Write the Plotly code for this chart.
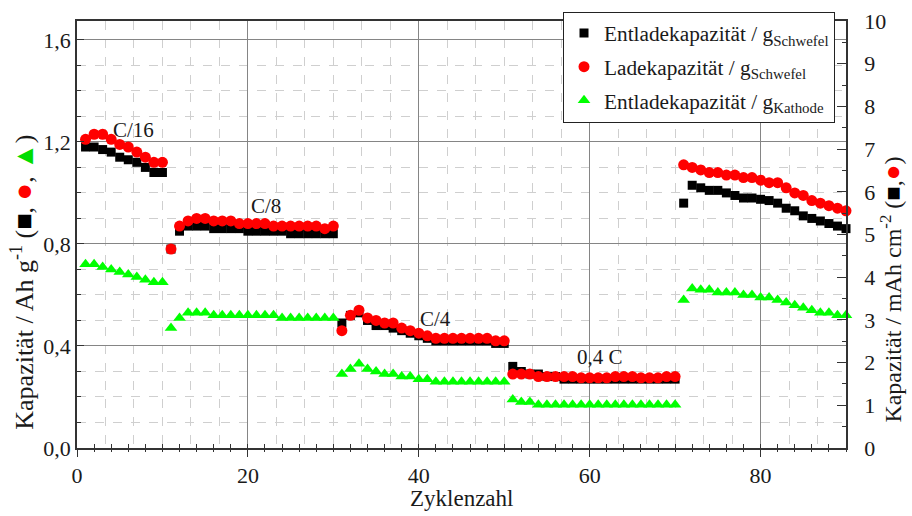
import plotly.graph_objects as go

# Cycle numbers
cycles = list(range(1, 91))

# Discharge capacity per g sulfur (Ah/g)
entlade_schwefel = [
    1.18, 1.18, 1.17, 1.16, 1.14, 1.13, 1.12, 1.10, 1.08, 1.08,
    0.78,
    0.85, 0.87, 0.87, 0.87, 0.86, 0.86, 0.86, 0.86, 0.85, 0.85,
    0.85, 0.85, 0.85, 0.84, 0.84, 0.84, 0.84, 0.84, 0.84,
    0.49, 0.52, 0.53, 0.50, 0.48, 0.48, 0.47, 0.46, 0.45, 0.44,
    0.43, 0.42, 0.42, 0.42, 0.42, 0.42, 0.42, 0.42, 0.41, 0.41,
    0.32, 0.30, 0.29, 0.29, 0.28, 0.28, 0.27, 0.27, 0.27, 0.27,
    0.27, 0.27, 0.27, 0.27, 0.27, 0.27, 0.27, 0.27, 0.27, 0.27,
    0.96, 1.03, 1.02, 1.01, 1.01, 1.00, 0.99, 0.98, 0.98, 0.975,
    0.97, 0.96, 0.94, 0.93, 0.91, 0.90, 0.89, 0.88, 0.87, 0.86,
]

# Charge capacity per g sulfur (Ah/g)
lade_schwefel = [
    1.21, 1.23, 1.23, 1.21, 1.19, 1.18, 1.16, 1.14, 1.12, 1.12,
    0.78,
    0.87, 0.89, 0.90, 0.90, 0.89, 0.89, 0.89, 0.88, 0.88, 0.88,
    0.88, 0.87, 0.87, 0.87, 0.87, 0.87, 0.87, 0.86, 0.87,
    0.46, 0.52, 0.54, 0.51, 0.50, 0.49, 0.49, 0.47, 0.46, 0.45,
    0.44, 0.43, 0.43, 0.43, 0.43, 0.43, 0.43, 0.43, 0.42, 0.42,
    0.29, 0.29, 0.29, 0.28, 0.28, 0.28, 0.28, 0.28, 0.275, 0.275,
    0.275, 0.275, 0.28, 0.28, 0.28, 0.275, 0.275, 0.275, 0.28, 0.28,
    1.11, 1.10, 1.09, 1.08, 1.08, 1.07, 1.07, 1.06, 1.06, 1.05,
    1.04, 1.04, 1.02, 1.00, 0.99, 0.97, 0.96, 0.95, 0.94, 0.93,
]

# Discharge capacity per g cathode (Ah/g)
entlade_kathode = [
    0.72, 0.72, 0.71, 0.70, 0.69, 0.68, 0.67, 0.66, 0.65, 0.65,
    0.47,
    0.51, 0.53, 0.53, 0.53, 0.52, 0.52, 0.52, 0.52, 0.52, 0.52,
    0.52, 0.52, 0.51, 0.51, 0.51, 0.51, 0.51, 0.51, 0.51,
    0.29, 0.31, 0.33, 0.31, 0.30, 0.29, 0.29, 0.28, 0.28, 0.27,
    0.27, 0.26, 0.26, 0.26, 0.26, 0.26, 0.26, 0.26, 0.26, 0.26,
    0.19, 0.18, 0.18, 0.17, 0.17, 0.17, 0.17, 0.17, 0.17, 0.17,
    0.17, 0.17, 0.17, 0.17, 0.17, 0.17, 0.17, 0.17, 0.17, 0.17,
    0.58, 0.625, 0.62, 0.62, 0.61, 0.61, 0.61, 0.60, 0.60, 0.59,
    0.59, 0.58, 0.57, 0.56, 0.55, 0.54, 0.53, 0.53, 0.52, 0.52,
]

# C-rate labels and their anchor points (cycle, capacity)
rate_labels = ["C/16", "C/8", "C/4", "0,4 C"]
rate_x = [6.6, 22.1, 41.9, 61.2]
rate_y = [1.247, 0.948, 0.505, 0.357]

SERIF = "Liberation Serif"
AXIS = "#333333"
TXT = "#1a1a1a"

fig = go.Figure()
fig.add_trace(go.Scatter(
    x=cycles, y=entlade_schwefel, mode="markers", name="Entladekapazität / g<sub>Schwefel</sub>",
    marker=dict(symbol="square", size=9, color="#000000"), legendgroup="a", cliponaxis=False))
fig.add_trace(go.Scatter(
    x=cycles, y=lade_schwefel, mode="markers", name="Ladekapazität / g<sub>Schwefel</sub>",
    marker=dict(symbol="circle", size=11, color="#ff0000"), legendgroup="b", cliponaxis=False))
fig.add_trace(go.Scatter(
    x=cycles, y=entlade_kathode, mode="markers", name="Entladekapazität / g<sub>Kathode</sub>",
    marker=dict(symbol="triangle-up", size=11, color="#00ff00"), legendgroup="c", cliponaxis=False))

# Empty traces so the secondary scale and the extra tick axes get rendered
for xa, ya in (("x", "y2"), ("x3", "y"), ("x4", "y")):
    fig.add_trace(go.Scatter(x=[None], y=[None], xaxis=xa, yaxis=ya, mode="markers",
                             showlegend=False, hoverinfo="skip"))

for t, xv, yv in zip(rate_labels, rate_x, rate_y):
    fig.add_annotation(x=xv, y=yv, text=t, showarrow=False,
                       font=dict(family=SERIF, size=21, color=TXT))

sq = '<span style="color:#000;font-size:27px">■</span>'
ci = '<span style="color:#ff0000;font-size:29px">●</span>'
tr = '<span style="color:#00dd00;font-size:27px">▲</span>'
sq_r = '<span style="color:#000;font-size:24px">■</span>'
ci_r = '<span style="color:#ff0000;font-size:26px">●</span>'

# Axis titles, placed as paper annotations
fig.add_annotation(xref="paper", yref="paper", x=-0.071, y=0.388, textangle=-90,
                   xanchor="center", yanchor="middle", showarrow=False,
                   text="Kapazität / Ah g<sup>-1</sup> (" + sq + ", " + ci + ", " + tr + ")",
                   font=dict(family=SERIF, size=26, color=TXT))
fig.add_annotation(xref="paper", yref="paper", x=1.058, y=0.37, textangle=-90,
                   xanchor="center", yanchor="middle", showarrow=False,
                   text="Kapazität / mAh cm<sup>-2</sup> (" + sq_r + "," + ci_r + ")",
                   font=dict(family=SERIF, size=24, color=TXT))
fig.add_annotation(xref="paper", yref="paper", x=0.5, y=-0.118,
                   xanchor="center", yanchor="middle", showarrow=False,
                   text="Zyklenzahl", font=dict(family=SERIF, size=23, color=TXT))

fig.update_layout(
    width=912, height=516,
    margin=dict(l=77, r=66, t=17, b=68),
    paper_bgcolor="white", plot_bgcolor="white",
    separators=",.",
    font=dict(family=SERIF, size=19, color=TXT),
    showlegend=True,
    legend=dict(x=0.632, y=1.022, xanchor="left", yanchor="top",
                bgcolor="white", bordercolor="#222", borderwidth=1,
                font=dict(family=SERIF, size=21.3, color=TXT),
                tracegroupgap=3, itemwidth=30),
    xaxis=dict(
        range=[0, 90], tick0=0, dtick=20, showgrid=True, gridcolor="#858585", gridwidth=1,
        ticks="outside", ticklen=7, tickcolor=AXIS, tickwidth=1.3, automargin=False,
        showline=True, linecolor=AXIS, linewidth=1.6, mirror=True, zeroline=False,
        minor=dict(tick0=0, dtick=20 / 6, showgrid=True, gridcolor="#cfcfcf",
                   griddash="dash", gridwidth=1, ticks=""),
        tickfont=dict(family=SERIF, size=22, color=TXT),
    ),
    xaxis3=dict(
        overlaying="x", anchor="y", side="bottom", range=[0, 90], tick0=0, dtick=2,
        ticks="inside", ticklen=4, tickcolor=AXIS, tickwidth=1.2,
        showticklabels=False, showgrid=False, zeroline=False, showline=False,
    ),
    xaxis4=dict(
        overlaying="x", anchor="y", side="bottom", range=[0, 90], tick0=0, dtick=2,
        ticks="outside", ticklen=3, tickcolor=AXIS, tickwidth=1.2,
        showticklabels=False, showgrid=False, zeroline=False, showline=False,
    ),
    yaxis=dict(
        range=[0, 1.674], tick0=0, dtick=0.4, tickformat=".1f",
        showgrid=True, gridcolor="#858585", gridwidth=1, automargin=False,
        ticks="inside", ticklen=7, tickcolor=AXIS, tickwidth=1.3,
        showline=True, linecolor=AXIS, linewidth=1.6, mirror=True, zeroline=False,
        minor=dict(dtick=0.1, showgrid=True, gridcolor="#cfcfcf", griddash="dash",
                   gridwidth=1, ticks="inside", ticklen=4, tickcolor=AXIS),
        tickfont=dict(family=SERIF, size=22, color=TXT),
    ),
    yaxis2=dict(
        overlaying="y", side="right", anchor="x", range=[0, 10], tick0=0, dtick=1,
        ticks="inside", ticklen=9, tickcolor=AXIS, tickwidth=1.3, automargin=False,
        showgrid=False, zeroline=False, showline=True, linecolor=AXIS, linewidth=1.6,
        minor=dict(dtick=0.5, ticks="inside", ticklen=4, tickcolor=AXIS),
        tickfont=dict(family=SERIF, size=22, color=TXT), ticklabelstandoff=12,
    ),
)

fig.write_html("out.html")
